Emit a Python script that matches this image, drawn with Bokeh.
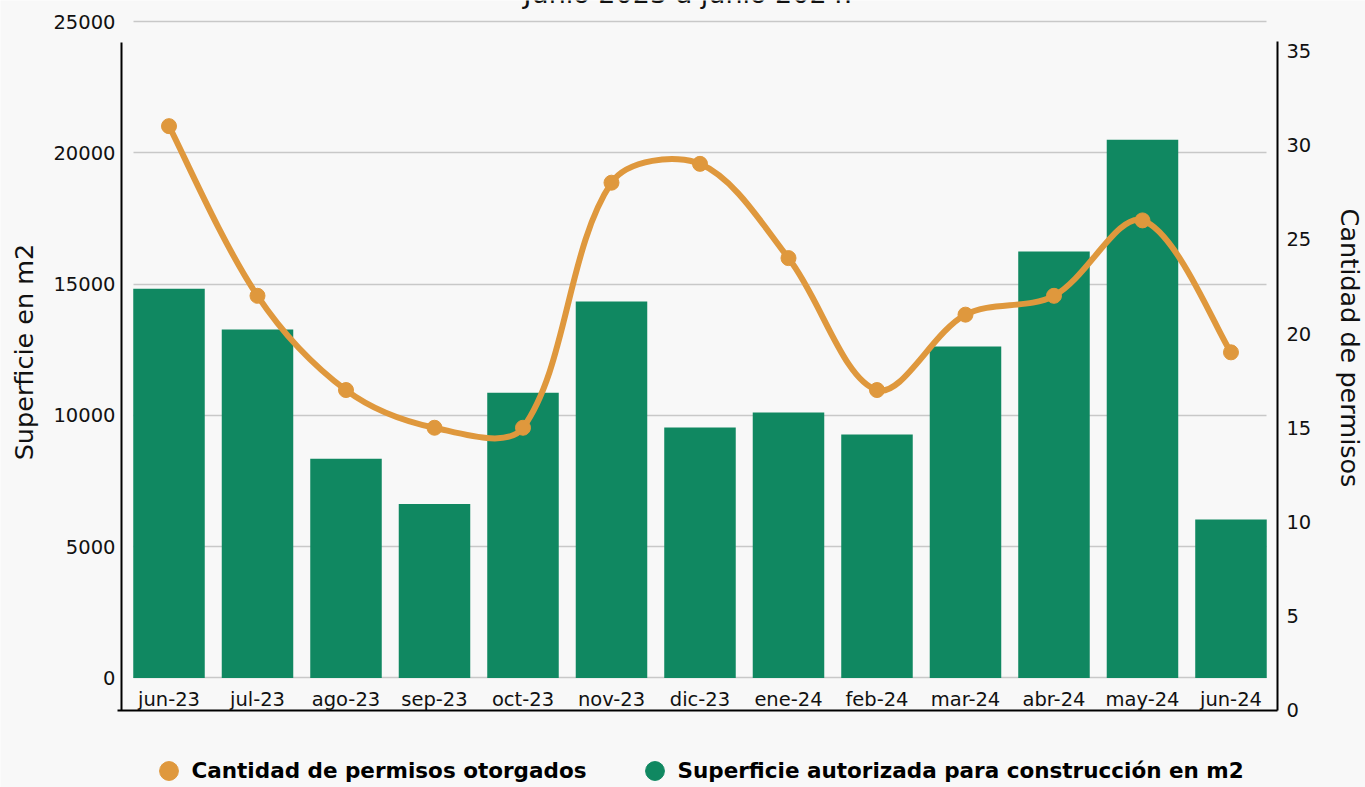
import math
from bokeh.plotting import figure
from bokeh.models import (Range1d, LinearAxis, FixedTicker, ColumnDataSource,
                          Legend, LegendItem, Label, Grid)
from bokeh.embed import file_html
from bokeh.resources import INLINE

# ---------------- data ----------------
months = ["jun-23", "jul-23", "ago-23", "sep-23", "oct-23", "nov-23", "dic-23",
          "ene-24", "feb-24", "mar-24", "abr-24", "may-24", "jun-24"]
superficie_m2 = [14820, 13270, 8350, 6630, 10860, 14340, 9540,
                 10110, 9270, 12620, 16240, 20500, 6040]
permisos = [31, 22, 17, 15, 15, 28, 29, 24, 17, 21, 22, 26, 19]
left_ticks = [0, 5000, 10000, 15000, 20000, 25000]
right_ticks = [0, 5, 10, 15, 20, 25, 30, 35]

title_text = "Junio 2023 a junio 2024."
left_title = "Superficie en m2"
right_title = "Cantidad de permisos"
legend_line = "Cantidad de permisos otorgados"
legend_bar = "Superficie autorizada para construcción en m2"

# ---------------- style / layout ----------------
GREEN = "#108861"
ORANGE = "#df983d"
BG = "#f8f8f8"
GRID = "#c8c8c8"
FONT = "DejaVu Sans"
TXT = "#111111"

W, H = 1365, 787
# ranges chosen so that the plotting frame covers the whole canvas
X0, X1 = -1.904, 13.520          # bar i centred at i
L0, L1 = -4170, 25800            # bar scale (m2)
R0, R1 = -4.085, 37.666          # count scale
X_AXIS_AT = -1238                # x-axis line level, in m2 scale
LEFT_AT, RIGHT_AT = -0.537, 12.525

xs = list(range(len(months)))
src = ColumnDataSource(dict(x=xs, month=months, sup=superficie_m2, perm=permisos))

p = figure(width=W, height=H, x_range=Range1d(X0, X1), y_range=Range1d(L0, L1),
           output_backend="svg", toolbar_location=None, min_border=0,
           background_fill_color=BG, border_fill_color=BG, outline_line_color=None)
p.extra_y_ranges = {"count": Range1d(R0, R1)}

# ---- x axis ----
xa = p.xaxis[0]
xa.fixed_location = X_AXIS_AT
xa.bounds = (-0.582, RIGHT_AT)
xa.ticker = FixedTicker(ticks=xs)
xa.major_label_overrides = {i: m for i, m in zip(xs, months)}
xa.major_tick_line_color = None
xa.minor_tick_line_color = None
xa.major_tick_out = 0
xa.minor_tick_out = 0
xa.axis_line_color = "black"
xa.axis_line_width = 2
xa.major_label_standoff = -23
xa.major_label_text_font = FONT
xa.major_label_text_font_size = "19.5px"
xa.major_label_text_color = TXT
p.xgrid.visible = False

# ---- left axis: line only ----
ya = p.yaxis[0]
ya.fixed_location = LEFT_AT
ya.ticker = FixedTicker(ticks=[])
ya.bounds = (X_AXIS_AT, 24200)
ya.axis_line_color = "black"
ya.axis_line_width = 2
ya.major_tick_out = 0
ya.minor_tick_out = 0
ya.major_tick_line_color = None
ya.minor_tick_line_color = None
ya.major_label_standoff = 0

yg = p.ygrid[0]
yg.ticker = FixedTicker(ticks=left_ticks)
yg.grid_line_color = GRID
yg.grid_line_width = 1.5
if "cross_bounds" in Grid.properties():
    yg.cross_bounds = (-0.404, 12.404)

# ---- left axis: tick labels ----
ax_l = LinearAxis(fixed_location=LEFT_AT, ticker=FixedTicker(ticks=left_ticks),
                  axis_line_color=None, major_tick_line_color=None,
                  minor_tick_line_color=None, major_tick_out=0, minor_tick_out=0,
                  major_label_standoff=6, major_label_text_font=FONT,
                  major_label_text_font_size="19.5px", major_label_text_color=TXT)
p.add_layout(ax_l, "left")

# ---- right axis ----
ax_r = LinearAxis(fixed_location=RIGHT_AT, y_range_name="count",
                  ticker=FixedTicker(ticks=right_ticks),
                  bounds=(0, 35.49), axis_line_color="black", axis_line_width=2,
                  major_tick_line_color=None, minor_tick_line_color=None,
                  major_tick_out=0, minor_tick_out=0,
                  major_label_standoff=9, major_label_text_font=FONT,
                  major_label_text_font_size="19.5px", major_label_text_color=TXT)
p.add_layout(ax_r, "right")

# ---- bars ----
p.vbar(x="x", top="sup", bottom=0, width=0.808, source=src,
       fill_color=GREEN, line_color=None)

# ---- smoothed line (cubic Bezier segments through the data points) ----
kx = W / (X1 - X0)
ky = H / (R1 - R0)
P = [(x * kx, y * ky) for x, y in zip(xs, permisos)]
n = len(P)


def dist(a, b):
    return math.hypot(P[a][0] - P[b][0], P[a][1] - P[b][1])


tan, f_out, f_in = [], [], []
for i in range(n):
    if i == 0:
        t = (P[1][0] - P[0][0], P[1][1] - P[0][1])
        fo = fi = 0.5
    elif i == n - 1:
        t = (P[i][0] - P[i - 1][0], P[i][1] - P[i - 1][1])
        fo = fi = 0.5
    else:
        t = (P[i + 1][0] - P[i - 1][0], P[i + 1][1] - P[i - 1][1])
        d0, d1 = dist(i - 1, i), dist(i, i + 1)
        fo, fi = d1 / (d0 + d1), d0 / (d0 + d1)
    tan.append(t)
    f_out.append(fo)
    f_in.append(fi)

s = 1.0 / 3.0
seg = dict(x0=[], y0=[], x1=[], y1=[], cx0=[], cy0=[], cx1=[], cy1=[])
for i in range(n - 1):
    a, b = P[i], P[i + 1]
    c0 = (a[0] + tan[i][0] * f_out[i] * s, a[1] + tan[i][1] * f_out[i] * s)
    c1 = (b[0] - tan[i + 1][0] * f_in[i + 1] * s, b[1] - tan[i + 1][1] * f_in[i + 1] * s)
    seg["x0"].append(a[0] / kx); seg["y0"].append(a[1] / ky)
    seg["x1"].append(b[0] / kx); seg["y1"].append(b[1] / ky)
    seg["cx0"].append(c0[0] / kx); seg["cy0"].append(c0[1] / ky)
    seg["cx1"].append(c1[0] / kx); seg["cy1"].append(c1[1] / ky)

p.bezier(x0="x0", y0="y0", x1="x1", y1="y1", cx0="cx0", cy0="cy0", cx1="cx1", cy1="cy1",
         source=ColumnDataSource(seg), y_range_name="count",
         line_color=ORANGE, line_width=6, line_cap="round")

dots = p.scatter(x="x", y="perm", source=src, y_range_name="count", size=15,
                 fill_color=ORANGE, line_color=ORANGE)
bar_key = p.scatter(x="x", y="sup", source=src, size=15,
                    fill_color=GREEN, line_color=GREEN, visible=False)

# ---- legends (bottom) ----
common = dict(padding=0, margin=0, spacing=0, glyph_width=47, glyph_height=47,
              border_line_color=None, background_fill_alpha=0, label_standoff=0,
              label_text_font=FONT, label_text_font_style="bold",
              label_text_font_size="21.5px", label_text_color="black")
leg1 = Legend(items=[LegendItem(label=legend_line, renderers=[dots])],
              location=(144.5, -6.5), **common)
leg2 = Legend(items=[LegendItem(label=legend_bar, renderers=[bar_key])],
              location=(630.5, -6.5), **common)
p.add_layout(leg1, "center")
p.add_layout(leg2, "center")

# ---- texts ----
p.add_layout(Label(x=687.5, y=794, x_units="screen", y_units="screen", text=title_text,
                   text_align="center", text_baseline="alphabetic",
                   text_font=FONT, text_font_size="27px", text_color=TXT))
p.add_layout(Label(x=23.5, y=435.5, x_units="screen", y_units="screen", text=left_title,
                   angle=math.pi / 2, text_align="center", text_baseline="middle",
                   text_font=FONT, text_font_size="25.5px", text_color=TXT))
p.add_layout(Label(x=1349, y=439.5, x_units="screen", y_units="screen", text=right_title,
                   angle=-math.pi / 2, text_align="center", text_baseline="middle",
                   text_font=FONT, text_font_size="25.5px", text_color=TXT))

open("out.html", "w").write(file_html(p, INLINE))
